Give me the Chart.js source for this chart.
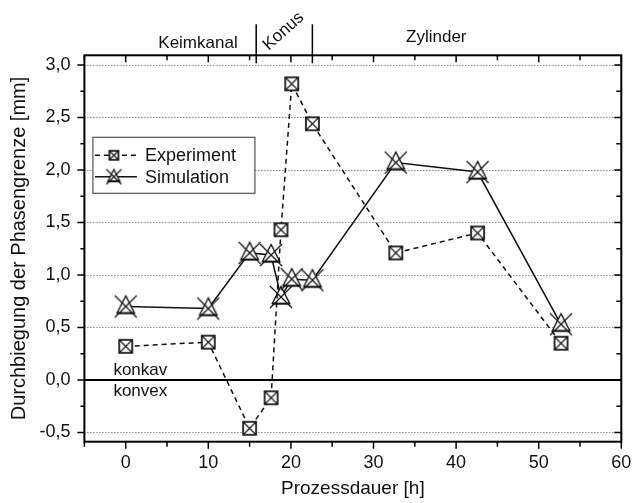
<!DOCTYPE html>
<html>
<head>
<meta charset="utf-8">
<script src="https://cdn.jsdelivr.net/npm/chart.js@4/dist/chart.umd.min.js"></script>
<style>
  html, body { margin: 0; padding: 0; background: #fff; }
  canvas { display: block; }
</style>
</head>
<body>
<canvas id="chart" width="634" height="503"></canvas>
<script>
// Process time [h] of each measurement / simulation run
const prozessdauer = [0, 10, 15, 17.6, 18.8, 20.1, 22.6, 32.7, 42.6, 52.7];
// Deflection of the phase boundary [mm]
const experiment = [0.32, 0.36, -0.46, -0.17, 1.43, 2.82, 2.44, 1.21, 1.40, 0.35];
const simulation = [0.70, 0.68, 1.21, 1.19, 0.79, 0.96, 0.95, 2.07, 1.98, 0.53];
const seriesNames = ['Experiment', 'Simulation'];

const xTicks = [0, 10, 20, 30, 40, 50, 60];
const yTicks = [-0.5, 0, 0.5, 1.0, 1.5, 2.0, 2.5, 3.0];

// Growth phases and the process times separating them
const phaseNames = ['Keimkanal', 'Konus', 'Zylinder'];
const phaseBounds = [15.8, 22.6];
const zoneNames = ['konkav', 'konvex'];

const FONT = '"Liberation Sans", Arial, Helvetica, sans-serif';

function makeSquare(s) {
  const c = document.createElement('canvas');
  const n = s + 4; c.width = n; c.height = n;
  const g = c.getContext('2d');
  const o = 2;
  g.fillStyle = '#fff';
  g.fillRect(o, o, s, s);
  g.strokeStyle = '#111';
  g.lineWidth = 1.7;
  g.strokeRect(o, o, s, s);
  g.lineWidth = 1.1;
  g.beginPath();
  g.moveTo(o, o); g.lineTo(o + s, o + s);
  g.moveTo(o + s, o); g.lineTo(o, o + s);
  g.stroke();
  return c;
}

function makeStar(s) {
  const c = document.createElement('canvas');
  const n = s + 4; c.width = n; c.height = n;
  const g = c.getContext('2d');
  const m = n / 2, h = s / 2;
  g.strokeStyle = '#111';
  g.fillStyle = '#fff';
  g.beginPath();
  g.moveTo(m, m - 0.97 * h);
  g.lineTo(m + 0.8 * h, m + 0.6 * h);
  g.lineTo(m - 0.8 * h, m + 0.6 * h);
  g.closePath();
  g.fill();
  g.lineWidth = 1.3;
  g.stroke();
  g.lineWidth = 2;
  g.beginPath();
  g.moveTo(m - 0.8 * h, m + 0.6 * h); g.lineTo(m + 0.8 * h, m + 0.6 * h);
  g.stroke();
  g.lineWidth = 1.2;
  g.beginPath();
  g.moveTo(m - h, m - h); g.lineTo(m + h, m + h);
  g.moveTo(m + h, m - h); g.lineTo(m - h, m + h);
  g.stroke();
  return c;
}

const squareMark = makeSquare(13);
const starMark = makeStar(22);
const squareSmall = makeSquare(9);
const starSmall = makeStar(15);

const fmt = v => v.toFixed(1).replace('.', ',');

const decorations = {
  id: 'decorations',
  beforeDatasetsDraw(chart) {
    const { ctx, chartArea: a, scales: { y } } = chart;
    ctx.save();
    ctx.strokeStyle = '#555';
    ctx.lineWidth = 1;
    ctx.setLineDash([1, 2]);
    y.ticks.forEach(t => {
      if (t.value === 0) return;
      const py = Math.round(y.getPixelForValue(t.value)) + 0.5;
      ctx.beginPath(); ctx.moveTo(a.left, py); ctx.lineTo(a.right, py); ctx.stroke();
    });
    ctx.setLineDash([]);
    ctx.strokeStyle = '#000';
    ctx.lineWidth = 2;
    const y0 = y.getPixelForValue(0);
    ctx.beginPath(); ctx.moveTo(a.left, y0); ctx.lineTo(a.right, y0); ctx.stroke();

    // concave / convex annotation around the zero line
    ctx.fillStyle = '#111';
    ctx.font = '17px ' + FONT;
    ctx.textAlign = 'left';
    ctx.textBaseline = 'alphabetic';
    ctx.fillText(zoneNames[0], a.left + 29, y0 - 5);
    ctx.fillText(zoneNames[1], a.left + 29, y0 + 16);
    ctx.restore();
  },
  afterDraw(chart) {
    const { ctx, chartArea: a, scales: { x, y } } = chart;
    ctx.save();
    ctx.strokeStyle = '#000';

    // tick marks: outward on left/bottom, inward on right/top
    ctx.lineWidth = 1.5;
    ctx.beginPath();
    for (let v = Math.ceil(y.min / 0.25) * 0.25; v <= y.max + 1e-9; v += 0.25) {
      const py = y.getPixelForValue(v);
      const major = Math.abs(v * 2 - Math.round(v * 2)) < 1e-6;
      const len = major ? 7 : 4;
      ctx.moveTo(a.left - len, py); ctx.lineTo(a.left, py);
      ctx.moveTo(a.right, py); ctx.lineTo(a.right - (major ? 7 : 5), py);
    }
    for (let v = Math.ceil(x.min / 5) * 5; v <= x.max + 1e-9; v += 5) {
      const px = x.getPixelForValue(v);
      const major = v % 10 === 0;
      const len = major ? 7 : 5;
      ctx.moveTo(px, a.bottom); ctx.lineTo(px, a.bottom + len);
      ctx.moveTo(px, a.top); ctx.lineTo(px, a.top + len);
    }
    ctx.stroke();

    // plot frame
    ctx.lineWidth = 2;
    ctx.strokeRect(a.left, a.top, a.right - a.left, a.bottom - a.top);

    // phase boundaries above the plot
    ctx.lineWidth = 1.5;
    ctx.beginPath();
    phaseBounds.forEach(b => {
      const px = x.getPixelForValue(b);
      ctx.moveTo(px, a.top - 31); ctx.lineTo(px, a.top + 8);
    });
    ctx.stroke();

    ctx.fillStyle = '#111';
    ctx.font = '17px ' + FONT;
    ctx.textBaseline = 'alphabetic';
    ctx.textAlign = 'center';
    ctx.fillText(phaseNames[0], x.getPixelForValue(8.75), a.top - 7);
    ctx.fillText(phaseNames[2], x.getPixelForValue(37.6), a.top - 13);
    ctx.save();
    ctx.translate(x.getPixelForValue(19.1), a.top - 24);
    ctx.rotate(-42 * Math.PI / 180);
    ctx.textBaseline = 'middle';
    ctx.fillText(phaseNames[1], 0, 0);
    ctx.restore();

    // legend box
    const lx = a.left + 8.5, ly = a.top + 82, lw = 162, lh = 56;
    ctx.fillStyle = '#fff';
    ctx.fillRect(lx, ly, lw, lh);
    ctx.strokeStyle = '#555';
    ctx.lineWidth = 1.2;
    ctx.strokeRect(lx, ly, lw, lh);
    const rows = [ly + 18, ly + 39.5];
    const marks = [squareSmall, starSmall];
    ctx.strokeStyle = '#111';
    rows.forEach((ry, i) => {
      ctx.lineWidth = 1.5;
      ctx.setLineDash(i === 0 ? [5, 4] : []);
      ctx.beginPath(); ctx.moveTo(lx + 2, ry); ctx.lineTo(lx + 44, ry); ctx.stroke();
      ctx.setLineDash([]);
      const mk = marks[i];
      ctx.drawImage(mk, lx + 21 - mk.width / 2, ry - mk.height / 2);
      ctx.fillStyle = '#111';
      ctx.font = '18px ' + FONT;
      ctx.textAlign = 'left';
      ctx.textBaseline = 'middle';
      ctx.fillText(chart.data.datasets[i].label, lx + 52, ry + 1);
    });
    ctx.restore();
  }
};

new Chart(document.getElementById('chart'), {
  type: 'scatter',
  data: {
    datasets: [
      {
        label: seriesNames[0],
        data: prozessdauer.map((t, i) => ({ x: t, y: experiment[i] })),
        showLine: true,
        borderColor: '#111',
        borderWidth: 1.5,
        borderDash: [5, 4],
        pointStyle: squareMark,
        pointRadius: 7,
        order: 1
      },
      {
        label: seriesNames[1],
        data: prozessdauer.map((t, i) => ({ x: t, y: simulation[i] })),
        showLine: true,
        borderColor: '#111',
        borderWidth: 1.5,
        pointStyle: starMark,
        pointRadius: 11,
        order: 2
      }
    ]
  },
  options: {
    responsive: false,
    animation: false,
    events: [],
    layout: { padding: { top: 55.3, right: 12.7, left: 0, bottom: 0 } },
    plugins: { legend: { display: false }, tooltip: { enabled: false } },
    scales: {
      x: {
        type: 'linear',
        min: -5,
        max: 60,
        afterBuildTicks: s => { s.ticks = xTicks.map(v => ({ value: v })); },
        afterFit: s => { s.height = 61.3; s.paddingLeft = 0; s.paddingRight = 0; },
        grid: { display: false, drawTicks: false },
        border: { display: false },
        ticks: { color: '#111', font: { family: FONT, size: 18 }, padding: 11, maxRotation: 0 },
        title: { display: true, text: 'Prozessdauer [h]', color: '#111', font: { family: FONT, size: 19 }, padding: { top: 0, bottom: 3 } }
      },
      y: {
        type: 'linear',
        min: -0.588,
        max: 3.092,
        afterBuildTicks: s => { s.ticks = yTicks.map(v => ({ value: v })); },
        afterFit: s => { s.width = 84.4; s.paddingTop = 0; s.paddingBottom = 0; },
        grid: { display: false, drawTicks: false },
        border: { display: false },
        ticks: { color: '#111', font: { family: FONT, size: 18 }, padding: 14, callback: v => fmt(v) },
        title: { display: true, text: 'Durchbiegung der Phasengrenze [mm]', color: '#111', font: { family: FONT, size: 20 }, padding: { top: 7, bottom: 0 } }
      }
    }
  },
  plugins: [decorations]
});
</script>
</body>
</html>
